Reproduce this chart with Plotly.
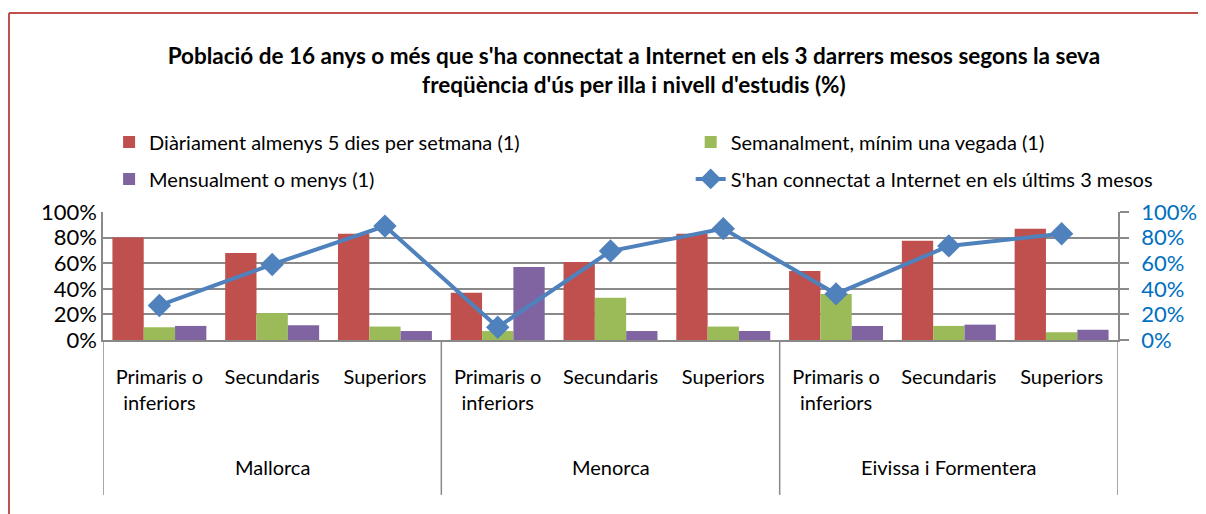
import plotly.graph_objects as go

# Categories
islands = ["Mallorca", "Menorca", "Eivissa i Formentera"]
levels = ["Primaris o<br>inferiors", "Secundaris", "Superiors"]

# Series (%), in order Mallorca x3, Menorca x3, Eivissa i Formentera x3
diariament = [80, 68, 83, 37, 61, 83, 54, 77.5, 87]
semanalment = [10, 21, 10.5, 7, 33, 10.5, 36, 11, 6]
mensualment = [11, 11.5, 7, 57, 7, 7, 11, 12, 8]
connectat = [27, 59, 89, 10, 69.5, 87, 36, 73.5, 83]

y_ticks = [0, 20, 40, 60, 80, 100]
y_ticktext = [f"{v}%" for v in y_ticks]

title = ("Població de 16 anys o més que s'ha connectat a Internet en els 3 darrers mesos segons la seva"
         "<br>freqüència d'ús per illa i nivell d'estudis (%)")

FONT = "Lato"
GRID = "#898989"

x = list(range(len(islands) * len(levels)))
ticktext = [lv for _ in islands for lv in levels]

fig = go.Figure()
fig.add_trace(go.Bar(x=x, y=diariament, name="Diàriament almenys 5 dies per setmana (1)",
                     marker_color="#C0504D", legend="legend", legendgroup="a"))
fig.add_trace(go.Bar(x=x, y=semanalment, name="Semanalment, mínim una vegada (1)",
                     marker_color="#9BBB59", legend="legend2", legendgroup="b"))
fig.add_trace(go.Bar(x=x, y=mensualment, name="Mensualment o menys (1)",
                     marker_color="#8064A2", legend="legend", legendgroup="c"))
fig.add_trace(go.Scatter(x=x, y=connectat, yaxis="y2", mode="lines+markers",
                         name="S'han connectat a Internet en els últims 3 mesos",
                         line=dict(color="#4F81BD", width=4),
                         marker=dict(symbol="diamond", size=18, color="#4F81BD"),
                         legend="legend2", legendgroup="d"))

fig.update_traces(selector=dict(type="bar"), marker_line_width=0)

# group dividers below the axis and island labels
n = len(levels)
for i in range(len(islands) + 1):
    fig.add_shape(type="line", xref="x", yref="paper", x0=i * n - 0.5, x1=i * n - 0.5,
                  y0=0, y1=-1.21, line=dict(color=GRID, width=1.5))
for i, isl in enumerate(islands):
    fig.add_annotation(x=i * n + (n - 1) / 2, y=-0.99, xref="x", yref="paper", text=isl,
                       showarrow=False, yanchor="middle", font=dict(size=20, color="#000"))

# outer frame (top and left edges)
frame = dict(color="#C0504D", width=2)
fig.add_shape(type="line", xref="paper", yref="paper", x0=-0.0926, x1=1.2, y0=2.555, y1=2.555, line=frame)
fig.add_shape(type="line", xref="paper", yref="paper", x0=-0.0926, x1=-0.0926, y0=2.555, y1=-1.5, line=frame)

legend_common = dict(orientation="v", xanchor="left", yanchor="top", font=dict(size=20, color="#000"),
                     tracegroupgap=8, bgcolor="rgba(0,0,0,0)", itemwidth=30)

# the page body adds an 8px offset, so the margins are shifted to compensate
fig.update_layout(
    width=1206, height=514,
    margin=dict(l=95, r=96, t=204, b=182),
    paper_bgcolor="white", plot_bgcolor="white",
    font=dict(family=FONT, color="#000"),
    title=dict(text=title, x=0.519, xanchor="center", y=0.892, yanchor="top",
               font=dict(size=22.5, family=FONT, color="#000", weight="bold")),
    barmode="group", bargap=0.167, bargroupgap=0,
    showlegend=True,
    legend=dict(x=0.006, y=1.70, **legend_common),
    legend2=dict(x=0.579, y=1.70, **legend_common),
    xaxis=dict(tickvals=x, ticktext=ticktext, range=[-0.5, len(x) - 0.5],
               showline=True, linecolor=GRID, linewidth=1.5, showgrid=False,
               ticks="", tickfont=dict(size=20, color="#000"), ticklabelstandoff=18),
    yaxis=dict(range=[0, 100], tickvals=y_ticks, ticktext=y_ticktext, showgrid=True,
               gridcolor=GRID, gridwidth=1.5, showline=True, linecolor=GRID, linewidth=1.5,
               ticks="", tickfont=dict(size=22, color="#000"), zeroline=False),
    yaxis2=dict(range=[0, 100], tickvals=y_ticks, ticktext=y_ticktext, overlaying="y", side="right",
                showgrid=False, showline=True, linecolor=GRID, linewidth=1.5,
                ticks="outside", ticklen=9, tickcolor=GRID, tickwidth=1.5, ticklabelstandoff=8,
                tickfont=dict(size=22, color="#0070C0"), zeroline=False),
)

fig.write_html("out.html")
